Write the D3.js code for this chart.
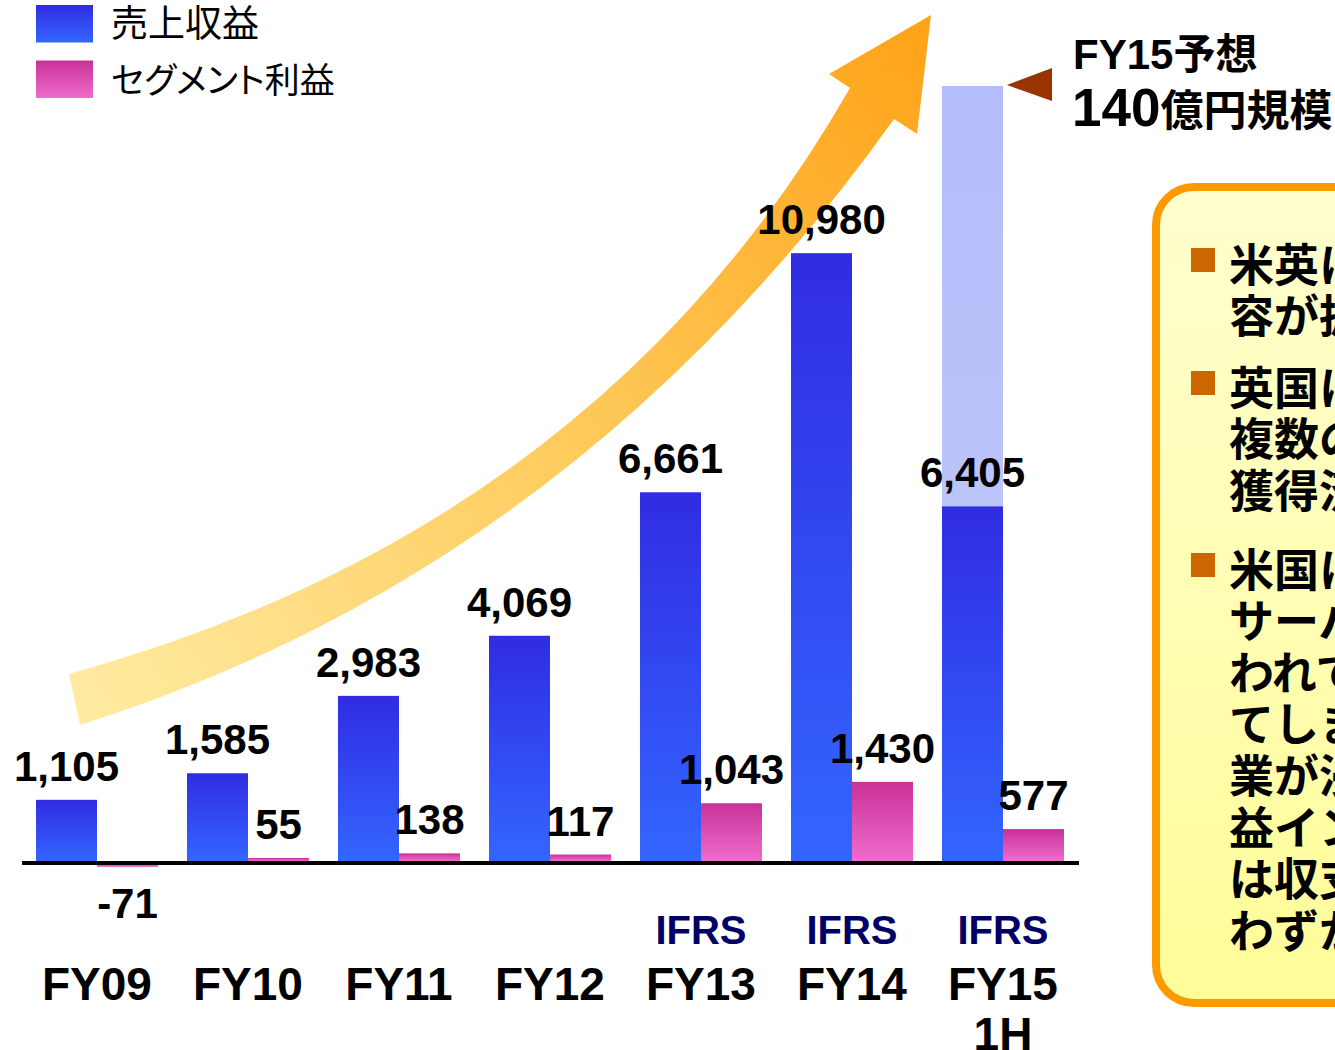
<!DOCTYPE html>
<html>
<head>
<meta charset="utf-8">
<script src="https://cdn.jsdelivr.net/npm/d3@7"></script>
<style>
  html, body { margin: 0; padding: 0; background: #fff; overflow: hidden; }
  svg { display: block; }
  .num { font-family: "Liberation Sans", Arial, sans-serif; font-weight: bold; }
  .jp { font-family: "Noto Sans CJK JP", sans-serif; }
</style>
</head>
<body>
<svg id="chart"></svg>
<script>
let WIDTH = 1335, HEIGHT = 1050;

// data (百万円)
let categories = ["FY09", "FY10", "FY11", "FY12", "FY13", "FY14", "FY15"];
let catSubLabels = ["", "", "", "", "", "", "1H"];
let ifrsFlags = [false, false, false, false, true, true, true];
let revenue = [1105, 1585, 2983, 4069, 6661, 10980, 6405];
let segmentProfit = [-71, 55, 138, 117, 1043, 1430, 577];
let forecastCategory = "FY15";
let forecastRevenue = 14000;

let legendLabels = ["売上収益", "セグメント利益"];
let forecastNote = ["FY15", "予想", "140", "億円規模"];
let boxParagraphs = [
    ["米英にて事業を展開、収益内", "容が拡大しています"],
    ["英国にて大手事業者を含む", "複数の契約を", "獲得済み"],
    ["米国においても新たな", "サーバー提供が行", "われています。", "てしまう前に", "業が浸透し、", "益インパクト", "は収支改善に", "わずかながら"]
];

// plain hyphen for negatives, like the original
let fmt = d3.formatLocale({ decimal: ".", thousands: ",", grouping: [3], currency: ["", ""], minus: "-" }).format(",");

let svg = d3.select("#chart").attr("width", WIDTH).attr("height", HEIGHT);
let defs = svg.append("defs");

function vGrad(id, top, bottom) {
    let g = defs.append("linearGradient").attr("id", id)
        .attr("x1", 0).attr("y1", 0).attr("x2", 0).attr("y2", 1);
    g.append("stop").attr("offset", "0%").attr("stop-color", top);
    g.append("stop").attr("offset", "100%").attr("stop-color", bottom);
}
vGrad("revGrad", "#302ce2", "#3366ff");
vGrad("profGrad", "#c93297", "#ef6ccc");
vGrad("fcGrad", "#b2bcfa", "#c3cdfa");
vGrad("boxGrad", "#ffffcf", "#fffc98");

let arrowGrad = defs.append("linearGradient").attr("id", "arrowGrad")
    .attr("gradientUnits", "userSpaceOnUse")
    .attr("x1", 70).attr("y1", 700).attr("x2", 930).attr("y2", 20);
arrowGrad.append("stop").attr("offset", "0%").attr("stop-color", "#ffeba2");
arrowGrad.append("stop").attr("offset", "50%").attr("stop-color", "#fecb5c");
arrowGrad.append("stop").attr("offset", "100%").attr("stop-color", "#ffa217");

// scales
let x0 = d3.scaleBand().domain(categories)
    .range([21.5, 1078.5]).paddingInner(0.192).paddingOuter(0.096);
let x1 = d3.scaleBand().domain(["rev", "prof"]).range([0, x0.bandwidth()]);
let y = d3.scaleLinear().domain([0, forecastRevenue]).range([861, 86]);

let rows = categories.map((c, i) => ({
    cat: c, sub: catSubLabels[i], ifrs: ifrsFlags[i],
    rev: revenue[i], prof: segmentProfit[i]
}));

// growth arrow (decoration, behind bars)
let arrow = d3.path();
arrow.moveTo(69, 674);
arrow.quadraticCurveTo(598, 528, 850, 88);
arrow.lineTo(829, 74);
arrow.lineTo(931, 15);
arrow.lineTo(917, 134);
arrow.lineTo(894, 119);
arrow.quadraticCurveTo(573, 569, 80, 725);
arrow.closePath();
svg.append("path").attr("d", arrow.toString()).attr("fill", "url(#arrowGrad)");

// forecast bar
svg.append("rect")
    .attr("x", x0(forecastCategory) + x1("rev"))
    .attr("y", y(forecastRevenue))
    .attr("width", x1.bandwidth())
    .attr("height", y(0) - y(forecastRevenue))
    .attr("fill", "url(#fcGrad)");

let groups = svg.selectAll("g.grp").data(rows).join("g")
    .attr("class", "grp")
    .attr("transform", d => `translate(${x0(d.cat)},0)`);

groups.append("rect")
    .attr("x", x1("rev"))
    .attr("y", d => y(d.rev))
    .attr("width", x1.bandwidth())
    .attr("height", d => y(0) - y(d.rev))
    .attr("fill", "url(#revGrad)");

groups.append("rect")
    .attr("x", x1("prof"))
    .attr("y", d => y(Math.max(0, d.prof)))
    .attr("width", x1.bandwidth())
    .attr("height", d => Math.abs(y(d.prof) - y(0)) + (d.prof < 0 ? 2 : 0))
    .attr("fill", "url(#profGrad)");

// baseline
let axis = d3.axisBottom(x0).tickSize(0).tickSizeOuter(0).tickFormat("");
svg.append("g")
    .attr("transform", "translate(0,862.5)")
    .call(axis)
    .call(g => g.select(".domain").attr("stroke", "#000").attr("stroke-width", 4));

// value labels
groups.append("text").attr("class", "num")
    .attr("x", x1("rev") + x1.bandwidth() / 2)
    .attr("y", d => y(d.rev) - 19)
    .attr("text-anchor", "middle")
    .attr("font-size", 42)
    .text(d => fmt(d.rev));

groups.append("text").attr("class", "num")
    .attr("x", x1("prof") + x1.bandwidth() / 2)
    .attr("y", d => d.prof >= 0 ? y(d.prof) - 19 : y(0) + 57)
    .attr("text-anchor", "middle")
    .attr("font-size", 42)
    .text(d => fmt(d.prof));

// category labels
groups.append("text").attr("class", "num")
    .filter(d => d.ifrs)
    .attr("x", x0.bandwidth() / 2)
    .attr("y", 944)
    .attr("text-anchor", "middle")
    .attr("font-size", 40)
    .attr("fill", "#000066")
    .text("IFRS");

groups.append("text").attr("class", "num")
    .attr("x", x0.bandwidth() / 2)
    .attr("y", 1000)
    .attr("text-anchor", "middle")
    .attr("font-size", 46)
    .text(d => d.cat);

groups.filter(d => d.sub).append("text").attr("class", "num")
    .attr("x", x0.bandwidth() / 2)
    .attr("y", 1050)
    .attr("text-anchor", "middle")
    .attr("font-size", 46)
    .text(d => d.sub);

// legend
let legend = svg.append("g").attr("class", "legend");
let legendSizes = [37, 35];
["url(#revGrad)", "url(#profGrad)"].forEach(function (fill, i) {
    legend.append("rect")
        .attr("x", 36).attr("y", 5 + i * 55.5)
        .attr("width", 57).attr("height", 37.5)
        .attr("fill", fill);
    legend.append("text").attr("class", "jp")
        .attr("x", 111).attr("y", 37 + i * 56)
        .attr("font-size", legendSizes[i])
        .style("font-feature-settings", "'palt'")
        .text(legendLabels[i]);
});

// forecast marker + note
svg.append("path")
    .attr("d", "M1007,85 L1052,68 L1052,101 Z")
    .attr("fill", "#993300");

let noteTop = svg.append("text").attr("class", "num")
    .attr("x", 1073).attr("y", 69)
    .attr("font-size", 42);
noteTop.append("tspan").text(forecastNote[0]);
noteTop.append("tspan").attr("class", "jp").attr("font-weight", "bold").text(forecastNote[1]);

let noteLine = svg.append("text").attr("class", "num")
    .attr("x", 1072).attr("y", 126);
noteLine.append("tspan").attr("font-size", 53).text(forecastNote[2]);
noteLine.append("tspan").attr("class", "jp").attr("font-weight", "bold")
    .attr("font-size", 43).text(forecastNote[3]);

// comment box (runs off the right edge)
svg.append("rect")
    .attr("x", 1156).attr("y", 187)
    .attr("width", 400).attr("height", 816)
    .attr("rx", 38).attr("ry", 38)
    .attr("fill", "url(#boxGrad)")
    .attr("stroke", "#ff9900")
    .attr("stroke-width", 8);

let paraStarts = [262, 385, 567];
let lineH = 51.6;
boxParagraphs.forEach(function (lines, p) {
    svg.append("rect")
        .attr("x", 1191).attr("y", paraStarts[p] - 14)
        .attr("width", 24).attr("height", 24)
        .attr("fill", "#cc6600");
    lines.forEach(function (line, k) {
        svg.append("text").attr("class", "jp")
            .attr("x", 1229)
            .attr("y", paraStarts[p] + k * lineH)
            .attr("dominant-baseline", "central")
            .attr("font-size", 45)
            .attr("font-weight", "bold")
            .text(line);
    });
});
</script>
</body>
</html>
